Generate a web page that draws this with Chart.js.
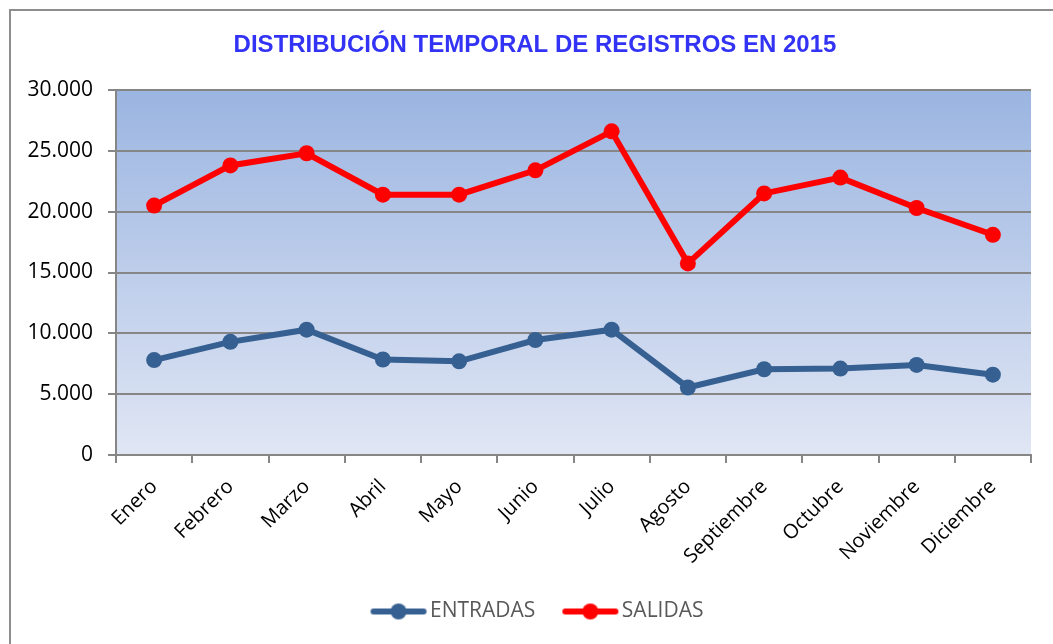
<!DOCTYPE html>
<html>
<head>
<meta charset="utf-8">
<script src="https://cdn.jsdelivr.net/npm/chart.js@4.4.0/dist/chart.umd.min.js"></script>
<style>
  html, body { margin: 0; padding: 0; background: #fff; overflow: hidden; }
  #wrap { position: relative; width: 1053px; height: 644px; }
  #frame { position: absolute; left: 9px; top: 9px; width: 1100px; height: 700px; border: 2px solid #8e8e8e; box-sizing: border-box; }
  #mycanvas { position: absolute; left: 0; top: 0; }
</style>
</head>
<body>
<div id="wrap">
  <div id="frame"></div>
  <canvas id="mycanvas" width="1053" height="644"></canvas>
</div>
<script>
var meses = ['Enero', 'Febrero', 'Marzo', 'Abril', 'Mayo', 'Junio', 'Julio', 'Agosto', 'Septiembre', 'Octubre', 'Noviembre', 'Diciembre'];
var entradas = [7800, 9300, 10300, 7850, 7700, 9450, 10300, 5550, 7050, 7100, 7400, 6600];
var salidas = [20500, 23800, 24800, 21400, 21400, 23400, 26600, 15750, 21500, 22800, 20300, 18100];
var titulo = 'DISTRIBUCIÓN TEMPORAL DE REGISTROS EN 2015';

var azul = '#376092';
var rojo = '#ff0000';

// icono de leyenda: linea con punto en el centro
function iconoLeyenda(color) {
	var c = document.createElement('canvas');
	c.width = 58;
	c.height = 18;
	var g = c.getContext('2d');
	g.strokeStyle = color;
	g.lineWidth = 6;
	g.lineCap = 'round';
	g.beginPath();
	g.moveTo(4, 9);
	g.lineTo(54, 9);
	g.stroke();
	g.fillStyle = color;
	g.beginPath();
	g.arc(29, 9, 8, 0, Math.PI * 2);
	g.fill();
	return c;
}

function puntos(v) {
	if (v === 0) return '0';
	return String(v).replace(/\B(?=(\d{3})+(?!\d))/g, '.');
}

// fondo degradado del area de trazado + titulo
var fondo = {
	id: 'fondo',
	afterLayout: function(chart) {
		// la leyenda va algo desplazada a la derecha
		chart.legend.left += 50;
	},
	beforeDraw: function(chart) {
		var a = chart.chartArea;
		var ctx = chart.ctx;
		var grad = ctx.createLinearGradient(0, a.top, 0, a.bottom);
		grad.addColorStop(0, '#9bb5e1');
		grad.addColorStop(1, '#e0e6f4');
		ctx.save();
		ctx.fillStyle = grad;
		ctx.fillRect(a.left, a.top, a.right - a.left, a.bottom - a.top);
		ctx.restore();
	},
	afterDraw: function(chart) {
		var ctx = chart.ctx;
		ctx.save();
		ctx.font = 'bold 24px "Liberation Sans"';
		ctx.fillStyle = '#3333f5';
		ctx.textAlign = 'center';
		ctx.textBaseline = 'middle';
		ctx.fillText(titulo, 535, 45);
		ctx.restore();
	}
};

var chartdata = {
	labels: meses,
	datasets: [
		{
			label: 'ENTRADAS',
			data: entradas,
			borderColor: azul,
			backgroundColor: azul,
			borderWidth: 6,
			pointRadius: 8,
			pointHoverRadius: 8,
			pointBackgroundColor: azul,
			pointBorderWidth: 0,
			tension: 0
		},
		{
			label: 'SALIDAS',
			data: salidas,
			borderColor: rojo,
			backgroundColor: rojo,
			borderWidth: 6,
			pointRadius: 8,
			pointHoverRadius: 8,
			pointBackgroundColor: rojo,
			pointBorderWidth: 0,
			tension: 0
		}
	]
};

var ctx = document.getElementById('mycanvas');

var lineGraph = new Chart(ctx, {
	type: 'line',
	data: chartdata,
	plugins: [fondo],
	options: {
		responsive: false,
		animation: false,
		layout: { padding: { left: 0, right: 22, top: 90, bottom: 12 } },
		plugins: {
			title: { display: false },
			legend: {
				display: true,
				position: 'bottom',
				labels: {
					usePointStyle: true,
					pointStyleWidth: 42,
					padding: 34,
					color: '#595959',
					font: { family: 'Open Sans', size: 21 },
					generateLabels: function(chart) {
						return chart.data.datasets.map(function(ds, i) {
							return {
								text: ds.label,
								fontColor: '#595959',
								pointStyle: iconoLeyenda(ds.borderColor),
								datasetIndex: i,
								lineWidth: 0,
								hidden: false
							};
						});
					}
				}
			},
			tooltip: { enabled: false }
		},
		scales: {
			x: {
				offset: true,
				grid: { offset: true, drawOnChartArea: false, drawTicks: true, tickLength: 8, color: '#868686', lineWidth: 2 },
				border: { display: true, color: '#868686', width: 2 },
				ticks: {
					autoSkip: false,
					maxRotation: 45,
					minRotation: 45,
					padding: 12,
					color: '#000',
					font: { family: 'Open Sans', size: 20 }
				},
				afterFit: function(s) { s.height = 112; }
			},
			y: {
				min: 0,
				max: 30000,
				grid: { color: '#868686', lineWidth: 2, tickLength: 8, drawTicks: true },
				border: { display: true, color: '#868686', width: 2 },
				ticks: {
					stepSize: 5000,
					padding: 15,
					color: '#000',
					font: { family: 'Open Sans', size: 21 },
					callback: function(v) { return puntos(v); }
				},
				afterFit: function(s) { s.width = 116; }
			}
		}
	}
});
</script>
</body>
</html>
